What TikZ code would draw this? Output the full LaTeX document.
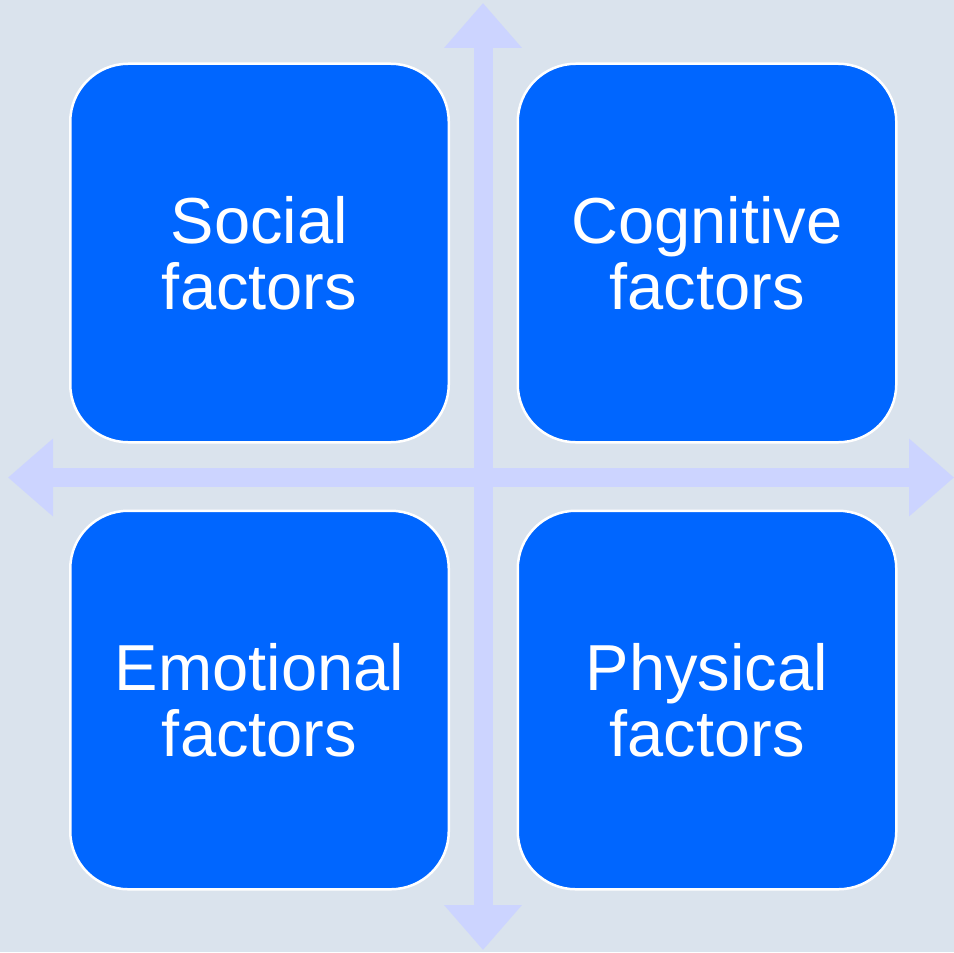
\documentclass[tikz,border=0pt]{standalone}
\usepackage{fontspec}
\setmainfont{Liberation Sans}
\usetikzlibrary{arrows.meta}

\definecolor{paper}{RGB}{218,227,237}
\definecolor{boxblue}{RGB}{0,102,255}
\definecolor{axis}{RGB}{204,212,255}

\begin{document}
\begin{tikzpicture}
\tikzstyle{FactorStyle}=[rectangle, rounded corners = 0.58cm,
                         minimum size = 3.785cm,
                         line width = 0.025cm,
                         fill = boxblue, draw = white,
                         text = white, align = center,
                         font = \fontsize{18.5}{18.8}\selectfont]
\tikzstyle{AxisStyle}=[axis, line width = 0.19cm,
                       {Triangle[length = 0.45cm, width = 0.75cm]}-{Triangle[length = 0.45cm, width = 0.75cm]}]
\useasboundingbox[fill = paper] (0,0) rectangle (9.54,9.52);
% ends of the two axes
\coordinate (top) at (4.83,9.49);
\coordinate (bottom) at (4.83,0.02);
\coordinate (left) at (0.08,4.745);
\coordinate (right) at (9.54,4.745);
\draw[AxisStyle] (bottom) -- (top);
\draw[AxisStyle] (left) -- (right);
% the four quadrants
\node[FactorStyle] (social) at (2.595,6.99) {Social\\factors};
\node[FactorStyle] (cognitive) at (7.07,6.99) {Cognitive\\factors};
\node[FactorStyle] (emotional) at (2.595,2.52) {Emotional\\factors};
\node[FactorStyle] (physical) at (7.07,2.52) {Physical\\factors};
\end{tikzpicture}
\end{document}
